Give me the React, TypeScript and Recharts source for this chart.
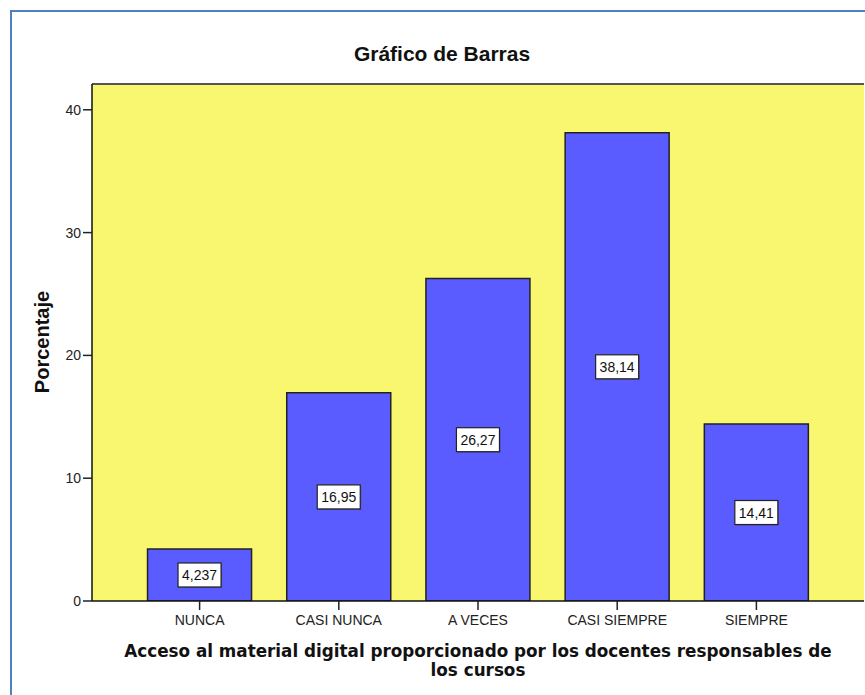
import React from 'react';
import { BarChart, Bar, XAxis, YAxis, CartesianGrid, LabelList, Customized } from 'recharts';

const categories = ['NUNCA', 'CASI NUNCA', 'A VECES', 'CASI SIEMPRE', 'SIEMPRE'];
const percentages = [4.237, 16.95, 26.27, 38.14, 14.41];
const yTicks = [0, 10, 20, 30, 40];

const data = categories.map((c, i) => ({ cat: c, pct: percentages[i] }));

const W = 865;
const H = 695;
const FONT = '"Liberation Sans", Arial, sans-serif';

const fmt = (v: number) => String(v).replace('.', ',');

const textWidth = (s: string, size: number) => {
  let w = 0;
  for (const ch of s) w += ch === ',' ? 0.278 : 0.556;
  return w * size;
};

const ValueLabel = (props: any) => {
  const { x, y, width, height, value } = props;
  const cx = x + width / 2;
  const cy = y + height / 2;
  const s = fmt(value);
  const tw = textWidth(s, 14) + 8;
  const th = 24;
  return (
    <g>
      <rect x={cx - tw / 2 + 1} y={cy - th / 2 + 1} width={tw} height={th} fill="#444" opacity={0.5} />
      <rect x={cx - tw / 2} y={cy - th / 2} width={tw} height={th} fill="#fff" stroke="#222" strokeWidth={1.2} />
      <text x={cx} y={cy + 5} textAnchor="middle" fontFamily={FONT} fontSize={14} fill="#111">
        {s}
      </text>
    </g>
  );
};

const Titles = () => (
  <g>
    <text x={442} y={61} textAnchor="middle" fontFamily={FONT} fontWeight="bold" fontSize={21} fill="#111">
      Gráfico de Barras
    </text>
    <text
      x={49}
      y={342}
      transform="rotate(-90 49 342)"
      textAnchor="middle"
      fontFamily={FONT}
      fontWeight="bold"
      fontSize={20}
      fill="#111"
    >
      Porcentaje
    </text>
    <text x={478} y={657} textAnchor="middle" fontFamily='"DejaVu Sans", sans-serif' fontWeight="bold" fontSize={16.8} fill="#111">
      Acceso al material digital proporcionado por los docentes responsables de
    </text>
    <text x={478} y={676} textAnchor="middle" fontFamily='"DejaVu Sans", sans-serif' fontWeight="bold" fontSize={16.8} fill="#111">
      los cursos
    </text>
  </g>
);

export default function App() {
  return (
    <div style={{ position: 'absolute', left: 0, top: 0, width: W, height: H, background: '#fff', overflow: 'hidden' }}>
      <div
        style={{
          position: 'absolute',
          left: 10,
          top: 10,
          width: W,
          height: H,
          borderLeft: '2px solid #5080c0',
          borderTop: '2px solid #5080c0',
        }}
      />
      <div style={{ position: 'absolute', left: 0, top: 0 }}>
        <BarChart
          width={W}
          height={H}
          data={data}
          margin={{ top: 83, right: 1, bottom: 0, left: 0 }}
          barCategoryGap="12.6%"
        >
          <CartesianGrid fill="#f9f66f" stroke="none" horizontal={false} vertical={false} />
          <XAxis
            dataKey="cat"
            height={94}
            padding={{ left: 38, right: 38 }}
            tickSize={9}
            tickMargin={5}
            axisLine={{ stroke: '#111', strokeWidth: 1.5 }}
            tickLine={{ stroke: '#222', strokeWidth: 1.5 }}
            tick={{ fontFamily: FONT, fontSize: 14, fill: '#222' }}
            interval={0}
          />
          <XAxis
            xAxisId="top"
            dataKey="cat"
            orientation="top"
            height={1}
            tick={false}
            tickLine={false}
            axisLine={{ stroke: '#555', strokeWidth: 2 }}
          />
          <YAxis
            width={92}
            domain={[0, 42.1]}
            ticks={yTicks}
            tickSize={9}
            tickMargin={2}
            allowDataOverflow
            axisLine={{ stroke: '#111', strokeWidth: 1.5 }}
            tickLine={{ stroke: '#222', strokeWidth: 1.5 }}
            tick={{ fontFamily: FONT, fontSize: 14, fill: '#222' }}
          />
          <YAxis
            yAxisId="right"
            orientation="right"
            width={0}
            domain={[0, 42.1]}
            tick={false}
            tickLine={false}
            axisLine={{ stroke: '#555', strokeWidth: 2 }}
          />
          <Bar dataKey="pct" fill="#5a5cff" stroke="#222" strokeWidth={1.5} isAnimationActive={false}>
            <LabelList dataKey="pct" position="center" content={ValueLabel} />
          </Bar>
          <Customized component={Titles} />
        </BarChart>
      </div>
    </div>
  );
}
